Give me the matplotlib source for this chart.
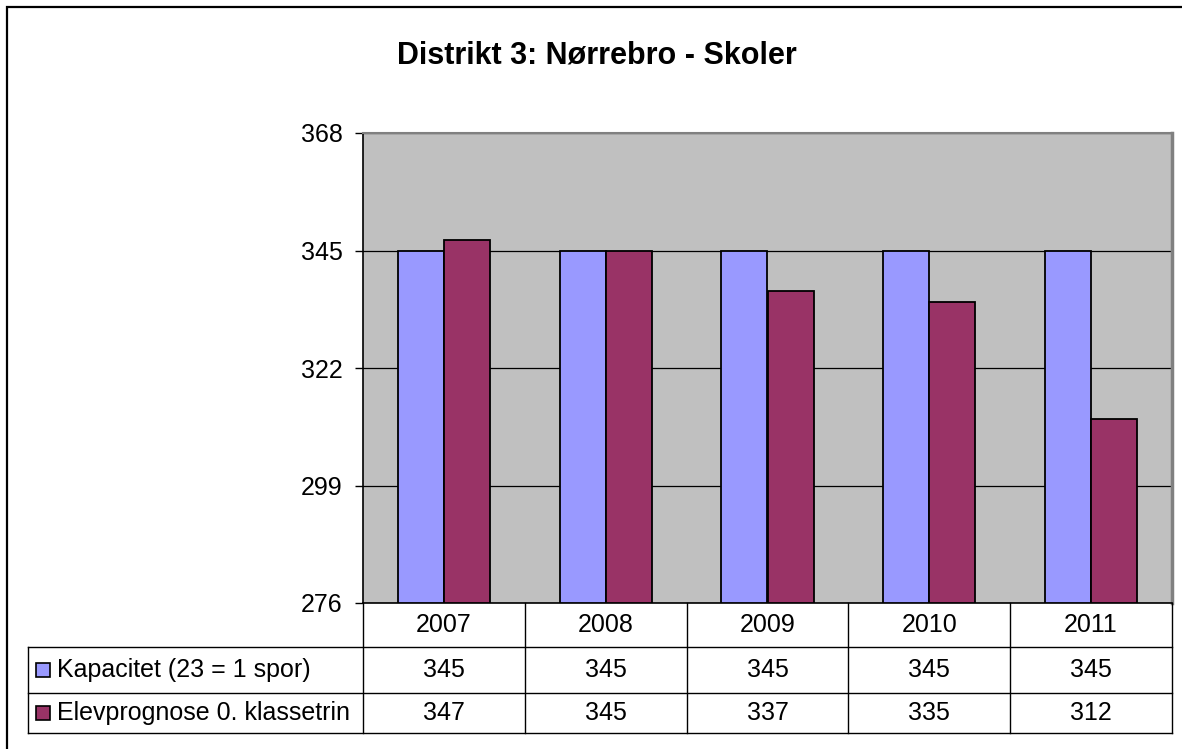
import matplotlib
matplotlib.use("Agg")
import matplotlib.pyplot as plt
from matplotlib.patches import Rectangle
from matplotlib.lines import Line2D
from matplotlib.transforms import blended_transform_factory

plt.rcParams['font.family'] = ['Liberation Sans', 'DejaVu Sans']

title = "Distrikt 3: Nørrebro - Skoler"
years = ["2007", "2008", "2009", "2010", "2011"]
series_names = ["Kapacitet (23 = 1 spor)", "Elevprognose 0. klassetrin"]
kapacitet = [345, 345, 345, 345, 345]
elevprognose = [347, 345, 337, 335, 312]
y_ticks = [276, 299, 322, 345, 368]
colors = ["#9999FF", "#993366"]

W, H = 1182, 749
FS = 18
fig = plt.figure(figsize=(W / 100, H / 100), dpi=100)

def fx(px):
    return px / W

def fy(py):
    return 1 - py / H

# plot area in pixel coords
L, R, T, B = 363, 1172, 133, 603
ax = fig.add_axes([fx(L), fy(B), fx(R) - fx(L), fy(T) - fy(B)])
ax.set_facecolor("#C0C0C0")

n = len(years)
xs = list(range(n))
bw = 0.285
series = [kapacitet, elevprognose]
for i, vals in enumerate(series):
    off = (i - 0.5) * bw
    ax.bar([x + off for x in xs], [v - y_ticks[0] for v in vals], bottom=y_ticks[0],
           width=bw, color=colors[i], edgecolor="black", linewidth=1.3, zorder=3)

ax.set_xlim(-0.5, n - 0.5)
ax.set_ylim(y_ticks[0], y_ticks[-1])
ax.set_yticks(y_ticks)
ax.set_yticklabels([str(t) for t in y_ticks], fontsize=FS)
ax.set_xticks([])
ax.tick_params(axis='y', length=5.8, width=1, color="#000000", pad=9, direction='out')
ax.yaxis.grid(True, color="#000000", linewidth=0.9, zorder=1)
ax.set_axisbelow(True)
ax.spines['left'].set_color("#000000")
ax.spines['left'].set_linewidth(1.2)
ax.spines['bottom'].set_color("#000000")
ax.spines['bottom'].set_linewidth(1.2)
ax.spines['top'].set_color("#808080")
ax.spines['top'].set_linewidth(1.5)
ax.spines['right'].set_color("#808080")
ax.spines['right'].set_linewidth(2.5)

# title
fig.text(fx(597), fy(55), title, ha='center', va='center', fontsize=22, fontweight='bold')

# data table
trans = blended_transform_factory(ax.transData, fig.transFigure)
rows_y = [603, 647, 693, 733]
tbl_left = 28
lc = "#000000"
# column lines
for k in range(n + 1):
    xv = k - 0.5
    fig.add_artist(Line2D([xv, xv], [fy(rows_y[0]), fy(rows_y[-1])], transform=trans,
                          color=lc, linewidth=1.0))
# horizontal lines of the series rows
for yy in rows_y[1:]:
    fig.add_artist(Line2D([fx(tbl_left), fx(R)], [fy(yy), fy(yy)], transform=fig.transFigure,
                          color=lc, linewidth=1.0))
fig.add_artist(Line2D([fx(tbl_left), fx(tbl_left)], [fy(rows_y[1]), fy(rows_y[-1])],
                      transform=fig.transFigure, color=lc, linewidth=1.0))

# header years
yc = fy((rows_y[0] + rows_y[1]) / 2)
for k, yr in enumerate(years):
    fig.text(k, yc, yr, transform=trans, ha='center', va='center', fontsize=FS)

# series rows
for i, vals in enumerate(series):
    yc = fy((rows_y[i + 1] + rows_y[i + 2]) / 2)
    for k, v in enumerate(vals):
        fig.text(k, yc, str(v), transform=trans, ha='center', va='center', fontsize=FS)
    sw = 14
    fig.add_artist(Rectangle((fx(36), yc - (sw / 2) / H), sw / W, sw / H, transform=fig.transFigure,
                             facecolor=colors[i], edgecolor="black", linewidth=1.2))
    fig.text(fx(57), yc, series_names[i], ha='left', va='center', fontsize=FS)

# outer chart border (cropped on right/bottom)
fig.add_artist(Rectangle((fx(7), fy(760)), fx(1200) - fx(7), fy(7) - fy(760),
                         transform=fig.transFigure, facecolor='none', edgecolor="black",
                         linewidth=1.6))

fig.savefig("out.png", dpi=100)
